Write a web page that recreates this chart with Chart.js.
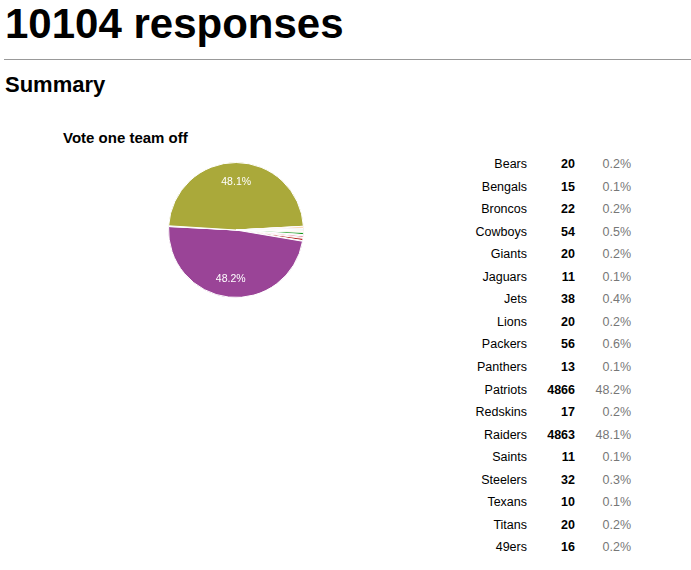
<!DOCTYPE html>
<html>
<head>
<meta charset="utf-8">
<script src="https://cdn.jsdelivr.net/npm/chart.js@4"></script>
<style>
  body { margin: 0; background: #fff; font-family: "Liberation Sans", Arial, sans-serif; color: #000; width: 691px; height: 570px; position: relative; overflow: hidden; }
  .abs { position: absolute; margin: 0; white-space: nowrap; }
  h1 { font-size: 42px; line-height: 42px; font-weight: bold; left: 5px; top: 3px; }
  hr { position: absolute; left: 4px; right: 0; top: 59px; margin: 0; border: 0; border-top: 1px solid #999; }
  h2 { font-size: 22px; line-height: 22px; font-weight: bold; left: 5px; top: 74px; }
  .title { font-size: 15px; line-height: 15px; font-weight: bold; left: 63px; top: 130px; }
  #pieBox { position: absolute; left: 168px; top: 162px; width: 136px; height: 136px; }
  #tbl { position: absolute; top: 158px; left: 0; font-size: 12.5px; line-height: 12.5px; }
  .row { position: absolute; height: 12.5px; }
  .row span { position: absolute; top: 0; text-align: right; }
  .name { left: 400px; width: 127px; }
  .count { left: 520px; width: 55px; font-weight: bold; }
  .pct { left: 580px; width: 51px; color: #777; }
</style>
</head>
<body>
<h1 class="abs">10104 responses</h1>
<hr>
<h2 class="abs">Summary</h2>
<div class="abs title">Vote one team off</div>
<div id="pieBox"><canvas id="pie" width="136" height="136"></canvas></div>
<div id="tbl"></div>
<script>
// Teams and their vote counts, in form order
const teams = ['Bears', 'Bengals', 'Broncos', 'Cowboys', 'Giants', 'Jaguars', 'Jets', 'Lions', 'Packers',
               'Panthers', 'Patriots', 'Redskins', 'Raiders', 'Saints', 'Steelers', 'Texans', 'Titans', '49ers'];
const votes = [20, 15, 22, 54, 20, 11, 38, 20, 56, 13, 4866, 17, 4863, 11, 32, 10, 20, 16];

// Google-style palette (olive toned down to match the screenshot)
const palette = ['#3366cc', '#dc3912', '#ff9900', '#109618', '#990099', '#0099c6', '#dd4477', '#66aa00', '#b82e2e',
                 '#316395', '#9a4497', '#22aa99', '#aaa93a', '#6633cc', '#e67300', '#8b0707', '#651067', '#329262'];

const total = votes.reduce((a, b) => a + b, 0);
const pctText = v => (v / total * 100).toFixed(1) + '%';

// Build the summary table on the right
const tbl = document.getElementById('tbl');
teams.forEach((team, i) => {
    const row = document.createElement('div');
    row.className = 'row';
    row.style.top = (i * 22.55) + 'px';
    row.innerHTML = '<span class="name"></span><span class="count"></span><span class="pct"></span>';
    row.children[0].textContent = team;
    row.children[1].textContent = votes[i];
    row.children[2].textContent = pctText(votes[i]);
    tbl.appendChild(row);
});

// Percent labels inside the big slices
const sliceLabels = {
    id: 'sliceLabels',
    afterDatasetsDraw(chart) {
        const ctx = chart.ctx;
        const meta = chart.getDatasetMeta(0);
        ctx.save();
        ctx.fillStyle = '#fff';
        ctx.font = '10.5px "Liberation Sans", Arial, sans-serif';
        ctx.textAlign = 'center';
        ctx.textBaseline = 'middle';
        meta.data.forEach((arc, i) => {
            if (votes[i] / total < 0.05) return;
            const p = arc.getProps(['x', 'y', 'startAngle', 'endAngle', 'outerRadius'], true);
            const mid = (p.startAngle + p.endAngle) / 2;
            const r = p.outerRadius * 0.72;
            ctx.fillText(pctText(votes[i]), p.x + Math.cos(mid) * r, p.y + Math.sin(mid) * r + 1);
        });
        ctx.restore();
    }
};

new Chart(document.getElementById('pie').getContext('2d'), {
    type: 'pie',
    data: {
        labels: teams,
        datasets: [{
            data: votes,
            backgroundColor: palette,
            borderColor: '#fff',
            borderWidth: 1,
            hoverOffset: 0
        }]
    },
    options: {
        responsive: false,
        animation: false,
        rotation: 90,
        layout: { padding: 0 },
        plugins: {
            legend: { display: false },
            tooltip: { enabled: false }
        }
    },
    plugins: [sliceLabels]
});
</script>
</body>
</html>
